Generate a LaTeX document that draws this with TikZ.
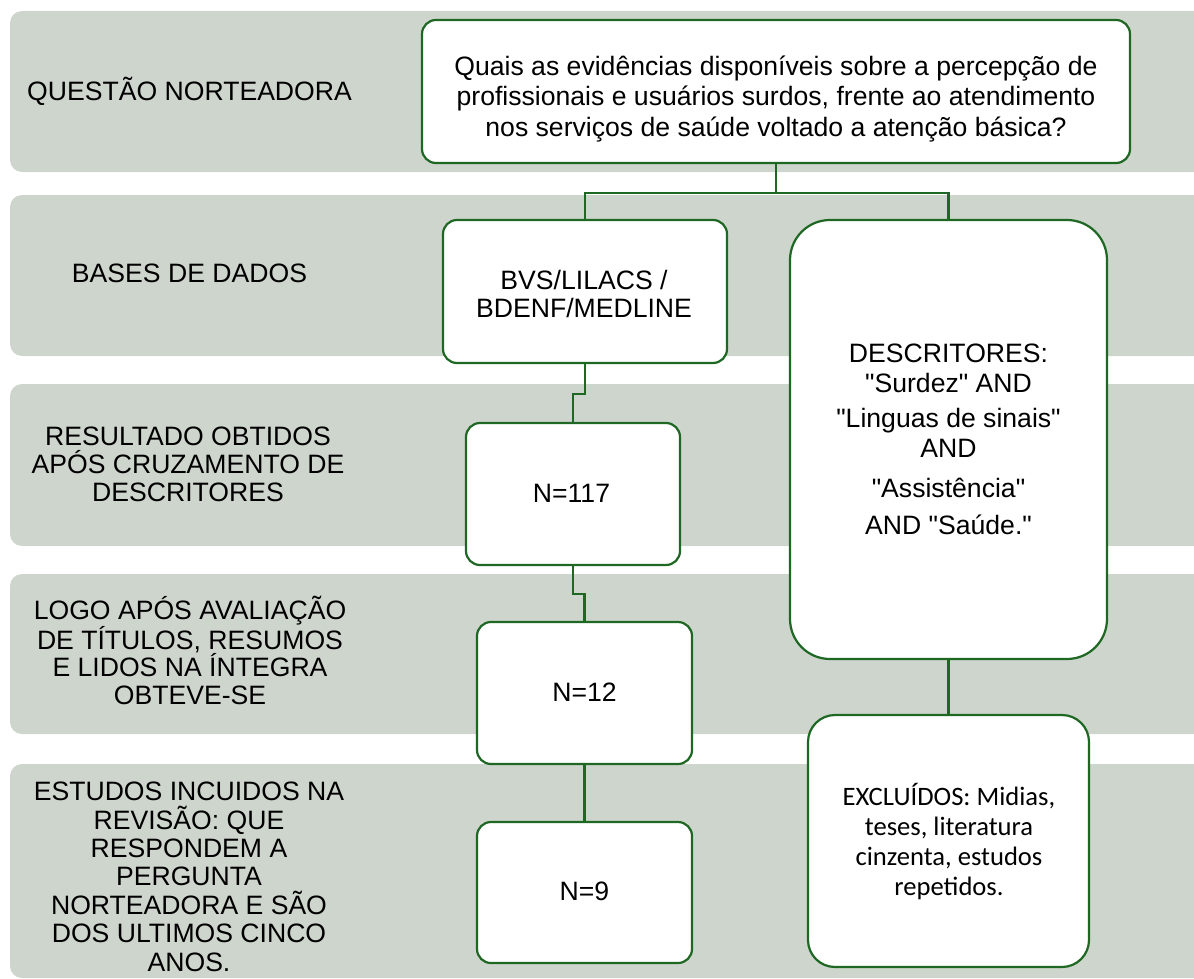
\documentclass[tikz,border=0pt]{standalone}
\usepackage{fontspec}
\setmainfont{Liberation Sans}[Ligatures=TeXOff]
\newfontfamily\calibfont{Carlito}[Ligatures=TeXOff]
\definecolor{bandc}{RGB}{206,213,204}
\definecolor{greenc}{RGB}{31,104,36}
\begin{document}
\begin{tikzpicture}[x=1pt,y=-1pt,
  band/.style={fill=bandc, rounded corners=12pt},
  box/.style={draw=greenc, line width=2.2pt, fill=white, rounded corners=14pt, inner sep=0pt},
  lbl/.style={font=\fontsize{26.6}{28}\selectfont, align=center, anchor=base, inner sep=0pt},
  conn/.style={draw=greenc, line width=2.2pt}
]
\useasboundingbox (0,0) rectangle (1194,979);
\begin{scope}
  \clip (0,0) rectangle (1194,979);
  \fill[band] (10,11) rectangle (1230,172);
  \fill[band] (10,195) rectangle (1230,356);
  \fill[band] (10,384) rectangle (1230,546);
  \fill[band] (10,574) rectangle (1230,734);
  \fill[band] (10,764) rectangle (1230,978);
\end{scope}

% boxes
\node[box, minimum width=708pt, minimum height=143pt] (Q) at (776,91.5) {};
\node[box, minimum width=284pt, minimum height=143pt] (BVS) at (585,291.5) {};
\node[box, rounded corners=40pt, minimum width=317pt, minimum height=439pt] (DESC) at (948.5,439.5) {};
\node[box, minimum width=214pt, minimum height=142pt] (N117) at (573,494) {};
\node[box, minimum width=215pt, minimum height=142pt] (N12) at (584.5,693) {};
\node[box, minimum width=215pt, minimum height=141pt] (N9) at (584.5,892.5) {};
\node[box, rounded corners=27pt, minimum width=281pt, minimum height=252pt] (EXC) at (948.5,841) {};

% connectors
\draw[conn] (Q.south) -- ++(0,29) coordinate (j1) -| (BVS.north);
\draw[conn] (j1) -| (DESC.north);
\draw[conn] (BVS.south) -- ++(0,30) -| (N117.north);
\draw[conn] (N117.south) -- ++(0,28) -| (N12.north);
\draw[conn] (N12.south) -- (N9.north);
\draw[conn] (DESC.south) -- (EXC.north);

% left labels (base anchor = baseline of the last line)
\node[lbl] (l1) at (189.5,100.5) {QUESTÃO NORTEADORA};
\node[lbl] (l2) at (189.5,282.5) {BASES DE DADOS};
\node[lbl] (l3) at (188,501.5) {RESULTADO OBTIDOS\\APÓS CRUZAMENTO DE\\DESCRITORES};
\node[lbl, font=\fontsize{26.6}{27.7}\selectfont] (l4) at (190,704.5) {LOGO APÓS AVALIAÇÃO\\DE TÍTULOS, RESUMOS\\E LIDOS NA ÍNTEGRA\\OBTEVE-SE};
\node[lbl, font=\fontsize{26.6}{28.4}\selectfont] (l5) at (189,971) {ESTUDOS INCUIDOS NA\\REVISÃO: QUE\\RESPONDEM A\\PERGUNTA\\NORTEADORA E SÃO\\DOS ULTIMOS CINCO\\ANOS.};

% box texts
\node[lbl, font=\fontsize{26.6}{30.5}\selectfont] (Qt) at (776,136.5) {Quais as evidências disponíveis sobre a percepção de\\profissionais e usuários surdos, frente ao atendimento\\nos serviços de saúde voltado a atenção básica?};
\node[lbl] (BVSt) at (584,317.5) {BVS/LILACS /\\BDENF/MEDLINE};
\node[lbl, font=\fontsize{26.6}{30}\selectfont] (DESCt) at (948.5,534.5) {DESCRITORES:\\"Surdez" AND\\[5pt]"Linguas de sinais"\\AND\\[10pt]"Assistência"\\[7pt]AND "Saúde."};
\node[lbl] (N117t) at (571.5,502) {N=117};
\node[lbl] (N12t) at (584.5,701.5) {N=12};
\node[lbl] (N9t) at (584.5,900.5) {N=9};
\node[lbl, font=\calibfont\fontsize{26.6}{30}\selectfont] (EXCt) at (949,895) {EXCLUÍDOS: Midias,\\teses, literatura\\cinzenta, estudos\\repetidos.};
\end{tikzpicture}
\end{document}
